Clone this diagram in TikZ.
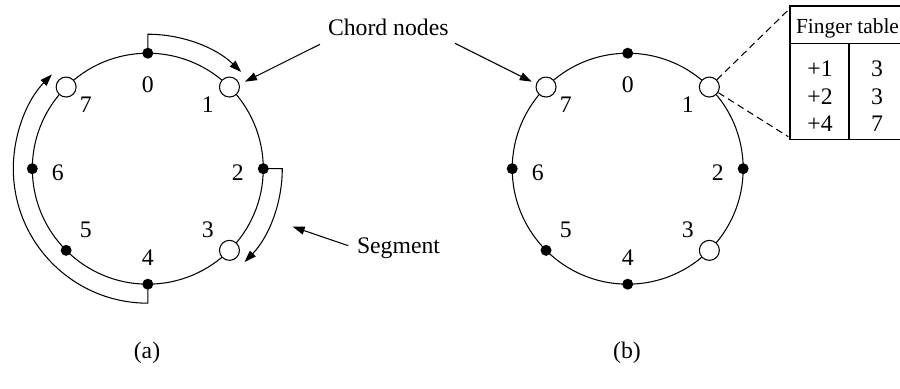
\documentclass[tikz,border=0pt]{standalone}
\usepackage{fontspec}
\setmainfont{Liberation Serif}
\usetikzlibrary{arrows.meta}
\begin{document}
\begin{tikzpicture}[x=0.02cm,y=0.02cm,line width=0.6pt,
  opennode/.style={circle,draw,fill=white,minimum size=0.4cm,inner sep=0pt},
  dotnode/.style={circle,fill=black,minimum size=0.22cm,inner sep=0pt},
  lbl/.style={inner sep=0pt,font=\fontsize{13.5}{16}\selectfont},
  tip/.style={-{Triangle[length=6.8pt,width=4.6pt]}},
  fingerdash/.style={dash pattern=on 4pt off 2.5pt}]
\useasboundingbox (0,0) rectangle (900,389);
% ---------- (a) ----------
\coordinate (ca) at (147.8,220.3);
\draw (ca) circle[radius=2.31cm];
\path (ca) ++(90:2.31cm) node[dotnode] (a0) {};
\path (ca) ++(45:2.31cm) node[opennode] (a1) {};
\path (ca) ++(0:2.31cm) node[dotnode] (a2) {};
\path (ca) ++(-45:2.31cm) node[opennode] (a3) {};
\path (ca) ++(-90:2.31cm) node[dotnode] (a4) {};
\path (ca) ++(-135:2.31cm) node[dotnode] (a5) {};
\path (ca) ++(180:2.31cm) node[dotnode] (a6) {};
\path (ca) ++(135:2.31cm) node[opennode] (a7) {};
\path (ca) ++(0,84) node[lbl] (la0) {0};
\path (ca) ++(60,64) node[lbl] (la1) {1};
\path (ca) ++(90,-4) node[lbl] (la2) {2};
\path (ca) ++(60,-61) node[lbl] (la3) {3};
\path (ca) ++(0,-89) node[lbl] (la4) {4};
\path (ca) ++(-62,-61) node[lbl] (la5) {5};
\path (ca) ++(-90,-4) node[lbl] (la6) {6};
\path (ca) ++(-62,64) node[lbl] (la7) {7};
\draw[tip] (a0.center) -- ++(0,19) arc[start angle=90,end angle=46,radius=2.69cm];
\draw[tip] (a2.center) -- ++(19,0) arc[start angle=0,end angle=-44,radius=2.69cm];
\draw[tip] (a4.center) -- ++(0,-19) arc[start angle=270,end angle=135.5,radius=2.69cm];
\node[lbl] (sega) at (147,36) {(a)};
% ---------- (b) ----------
\coordinate (cb) at (627.7,220.3);
\draw (cb) circle[radius=2.31cm];
\path (cb) ++(90:2.31cm) node[dotnode] (b0) {};
\path (cb) ++(45:2.31cm) node[opennode] (b1) {};
\path (cb) ++(0:2.31cm) node[dotnode] (b2) {};
\path (cb) ++(-45:2.31cm) node[opennode] (b3) {};
\path (cb) ++(-90:2.31cm) node[dotnode] (b4) {};
\path (cb) ++(-135:2.31cm) node[dotnode] (b5) {};
\path (cb) ++(180:2.31cm) node[dotnode] (b6) {};
\path (cb) ++(135:2.31cm) node[opennode] (b7) {};
\path (cb) ++(0,84) node[lbl] (lb0) {0};
\path (cb) ++(60,64) node[lbl] (lb1) {1};
\path (cb) ++(90,-4) node[lbl] (lb2) {2};
\path (cb) ++(60,-61) node[lbl] (lb3) {3};
\path (cb) ++(0,-89) node[lbl] (lb4) {4};
\path (cb) ++(-62,-61) node[lbl] (lb5) {5};
\path (cb) ++(-90,-4) node[lbl] (lb6) {6};
\path (cb) ++(-62,64) node[lbl] (lb7) {7};
\node[lbl] (segb) at (627,36) {(b)};
% ---------- labels ----------
\node[lbl] (chord) at (388.3,361.7) {Chord nodes};
\coordinate (chl) at (320,344.7);
\coordinate (chle) at (245,307.3);
\coordinate (chr) at (455,345.7);
\coordinate (chre) at (531.7,307.3);
\draw[tip] (chl) -- (chle);
\draw[tip] (chr) -- (chre);
\node[lbl] (segment) at (398.5,140.7) {Segment};
\coordinate (sgs) at (348.3,143.3);
\coordinate (sge) at (292.7,162.3);
\draw[tip] (sgs) -- (sge);
% ---------- finger table ----------
\coordinate (ftl) at (790,383);
\coordinate (fbl) at (790,249.7);
\coordinate (ftr) at (905,383);
\coordinate (fbr) at (905,249.7);
\draw (ftr) -- (ftl) -- (fbl) -- (fbr);
\coordinate (fhl) at (790,345.7);
\coordinate (fhr) at (905,345.7);
\draw (fhl) -- (fhr);
\coordinate (fdt) at (849,345.7);
\coordinate (fdb) at (849,249.7);
\draw (fdt) -- (fdb);
\node[lbl,font=\fontsize{12.2}{14}\selectfont] (fhead) at (847.5,361) {Finger table};
\node[lbl] (f1a) at (820,320.7) {+1};
\node[lbl] (f2a) at (820,292.3) {+2};
\node[lbl] (f3a) at (820,265.7) {+4};
\node[lbl] (f1b) at (877,320.7) {3};
\node[lbl] (f2b) at (877,292.3) {3};
\node[lbl] (f3b) at (877,265.7) {7};
\coordinate (fd1) at (788.3,379);
\coordinate (fd2) at (788.3,252.3);
\draw[fingerdash] (b1) -- (fd1);
\draw[fingerdash] (b1) -- (fd2);
\end{tikzpicture}
\end{document}
